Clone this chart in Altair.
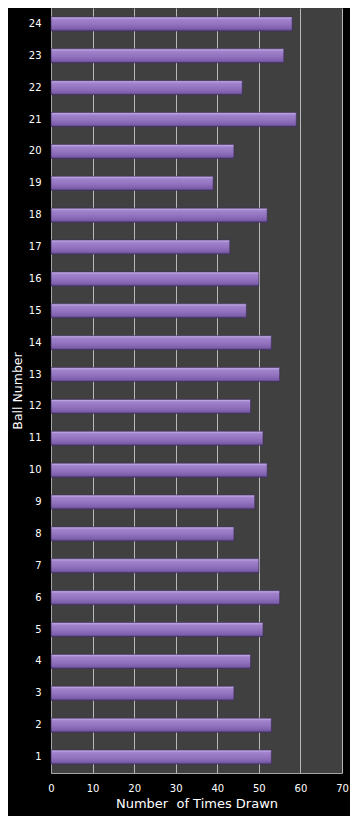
import altair as alt
import pandas as pd

balls = list(range(1, 25))
times_drawn = [53, 53, 44, 48, 51, 55, 50, 44, 49, 52, 51, 48,
               55, 53, 47, 50, 43, 52, 39, 44, 59, 46, 56, 58]

df = pd.DataFrame({"ball": balls, "times": times_drawn})

grad = alt.Gradient(
    gradient="linear",
    x1=0, y1=0, x2=0, y2=1,
    stops=[
        alt.GradientStop(offset=0.0, color="#cbb6ee"),
        alt.GradientStop(offset=0.18, color="#a083cc"),
        alt.GradientStop(offset=0.55, color="#9272be"),
        alt.GradientStop(offset=0.85, color="#7d5fab"),
        alt.GradientStop(offset=1.0, color="#5a4183"),
    ],
)

chart = (
    alt.Chart(df)
    .mark_bar(color=grad, stroke="#3e2c5c", strokeWidth=0.6)
    .encode(
        x=alt.X(
            "times:Q",
            title="Number\u00a0 of Times Drawn",
            scale=alt.Scale(domain=[0, 70], nice=False),
            axis=alt.Axis(values=[0, 10, 20, 30, 40, 50, 60, 70], ticks=False,
                          labelPadding=10, labelFlush=False, titlePadding=4,
                          grid=True, titleFontSize=13),
        ),
        y=alt.Y(
            "ball:O",
            title="Ball Number",
            sort="descending",
            scale=alt.Scale(paddingInner=0.56, paddingOuter=0.28),
            axis=alt.Axis(ticks=False, labelPadding=10, titlePadding=4, grid=False,
                          titleFontSize=12.5),
        ),
    )
    .properties(
        width=291,
        height=765,
        autosize=alt.AutoSizeParams(type="none"),
        padding={"left": 43, "top": 0, "right": 8, "bottom": 43},
        background="#000000",
    )
    .configure_view(fill="#404040", stroke=None)
    .configure_axis(
        labelColor="#ffffff",
        titleColor="#ffffff",
        labelFont="DejaVu Sans",
        titleFont="DejaVu Sans",
        labelFontSize=10,
        titleFontWeight="normal",
        domainColor="#a6a6a6",
        domainWidth=1,
        gridColor="#b8b8b8",
        gridWidth=1,
    )
)

chart.save("out.html", embed_options={"renderer": "svg", "actions": False})
